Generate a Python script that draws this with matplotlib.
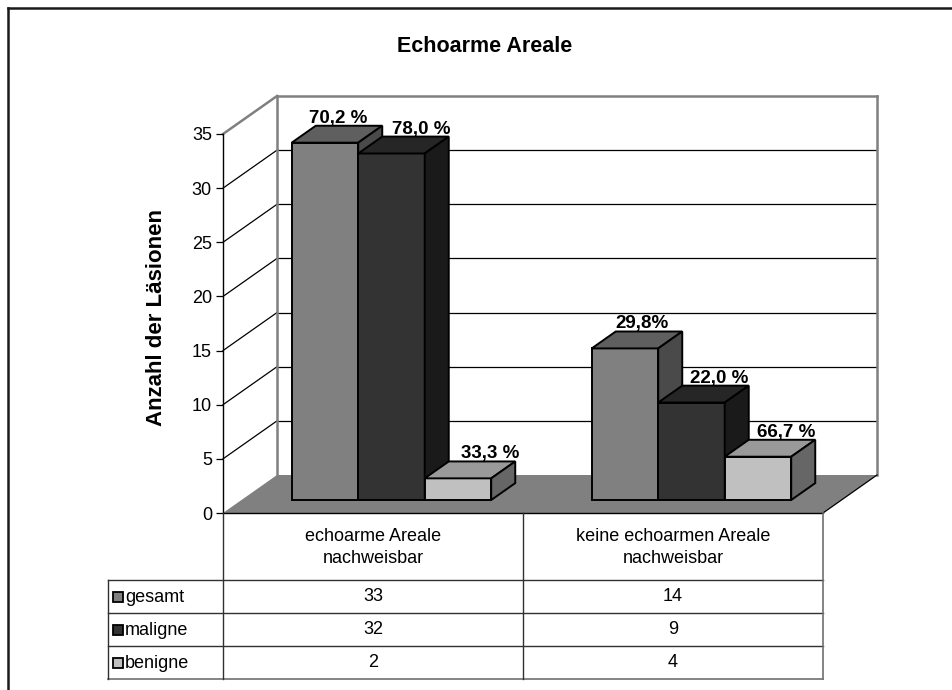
import matplotlib
matplotlib.use("Agg")
import matplotlib.pyplot as plt
from matplotlib.patches import Polygon, Rectangle
from matplotlib.lines import Line2D
import matplotlib.transforms as mtransforms

plt.rcParams['font.family'] = ['Liberation Sans', 'DejaVu Sans']

# ---------------- data ----------------
title = "Echoarme Areale"
categories = ["echoarme Areale\nnachweisbar", "keine echoarmen Areale\nnachweisbar"]
series_names = ["gesamt", "maligne", "benigne"]
gesamt = [33, 14]
maligne = [32, 9]
benigne = [2, 4]
pct_gesamt = ["70,2 %", "29,8%"]
pct_maligne = ["78,0 %", "22,0 %"]
pct_benigne = ["33,3 %", "66,7 %"]
y_label = "Anzahl der Läsionen"
y_ticks = [0, 5, 10, 15, 20, 25, 30, 35]

series_values = [gesamt, maligne, benigne]
series_pcts = [pct_gesamt, pct_maligne, pct_benigne]
# (front, top, side) colours
series_colors = [("#808080", "#5f5f5f", "#4a4a4a"),
                 ("#333333", "#262626", "#1a1a1a"),
                 ("#c0c0c0", "#9a9a9a", "#666666")]
# horizontal nudge of each percentage label (pixels), per series and category
label_nudge_px = [[1, 5], [18, 16], [20, 16]]

# ---------------- layout ----------------
W, H = 953, 690
fig = plt.figure(figsize=(W / 100, H / 100), dpi=100)
pix = mtransforms.Affine2D().scale(1, -1).translate(0, H)  # pixel coords, origin top-left

AX_L, AX_R, AX_T, AX_B = 223, 823, 134, 513
ax = fig.add_axes([AX_L / W, (H - AX_B) / H, (AX_R - AX_L) / W, (AX_B - AX_T) / H])
ax.set_xlim(0, len(categories))
ax.set_ylim(0, max(y_ticks))
ppu_x = (AX_R - AX_L) / len(categories)
ppu_y = (AX_B - AX_T) / max(y_ticks)

DX = 54 / ppu_x     # depth offset of back wall (data units)
DY = 38 / ppu_y
d0, d1 = 0.342, 0.787
bw = 66.5 / ppu_x

ymax = max(y_ticks)
wall_gray = "#808080"
n = len(categories)

# walls: grid lines
for v in y_ticks[1:]:
    c = wall_gray if v == ymax else "black"
    lw = 1.8 if v == ymax else 0.9
    ax.add_line(Line2D([0, DX], [v, v + DY], color=c, lw=lw, clip_on=False, zorder=1))
    ax.add_line(Line2D([DX, n + DX], [v + DY, v + DY], color=c, lw=lw,
                       clip_on=False, zorder=1))
for xx in [DX, n + DX]:
    ax.add_line(Line2D([xx, xx], [DY, ymax + DY], color=wall_gray, lw=1.8, clip_on=False, zorder=1))

# floor
ax.add_patch(Polygon([(0, 0), (n, 0), (n + DX, DY), (DX, DY)], closed=True,
                     facecolor="#808080", edgecolor="none", clip_on=False, zorder=2))
ax.add_line(Line2D([n, n + DX], [0, DY], color="black", lw=0.9, clip_on=False, zorder=2))
ax.add_line(Line2D([0, n], [0, 0], color="black", lw=1.0, clip_on=False, zorder=3))

# bars
ddx = (d1 - d0) * DX
ddy = (d1 - d0) * DY
base = d0 * DY
z = 4
for i in range(n):
    for j, (vals, pcts, cols) in enumerate(zip(series_values, series_pcts, series_colors)):
        x0 = i + 0.5 - 1.5 * bw + j * bw + d0 * DX
        h = vals[i]
        ax.bar(x0, h, width=bw, bottom=base, align="edge", color=cols[0],
               edgecolor="black", linewidth=1.4, clip_on=False, zorder=z)
        top = base + h
        ax.add_patch(Polygon([(x0, top), (x0 + bw, top), (x0 + bw + ddx, top + ddy),
                              (x0 + ddx, top + ddy)], closed=True, facecolor=cols[1],
                             edgecolor="black", linewidth=1.4, clip_on=False, zorder=z))
        ax.add_patch(Polygon([(x0 + bw, base), (x0 + bw + ddx, base + ddy),
                              (x0 + bw + ddx, top + ddy), (x0 + bw, top)], closed=True,
                             facecolor=cols[2], edgecolor="black", linewidth=1.4,
                             clip_on=False, zorder=z))
        ax.text(x0 + bw / 2 + ddx * 0.5 + label_nudge_px[j][i] / ppu_x,
                top + ddy + 3 / ppu_y, pcts[i], ha="center", va="baseline",
                fontsize=13.5, fontweight="bold", zorder=20, clip_on=False)
        z += 1

# axes styling
for s in ["top", "right", "bottom"]:
    ax.spines[s].set_visible(False)
ax.spines["left"].set_linewidth(1.0)
ax.set_xticks([])
ax.set_yticks(y_ticks)
ax.tick_params(axis="y", direction="out", length=5, width=0.9, labelsize=13, pad=3)
ax.patch.set_visible(False)

# title & y-label
fig.text(485 / W, 1 - 47 / H, title, ha="center", va="center", fontsize=15.5, fontweight="bold")
fig.text(157 / W, 1 - 318 / H, y_label, ha="center", va="center", rotation=90,
         fontsize=16, fontweight="bold")

# outer frame
fig.add_artist(Line2D([8, 8], [8, H + 5], transform=pix, color="#1a1a1a", lw=1.8))
fig.add_artist(Line2D([8, W + 5], [8, 8], transform=pix, color="#1a1a1a", lw=1.8))

# data table
TBL_L = 108
col_x = [AX_L + k * ppu_x for k in range(n + 1)]
row_y = [AX_B, 580, 613, 646, 679]
lc = "#303030"
for yy in row_y[1:-1]:
    fig.add_artist(Line2D([TBL_L, col_x[-1]], [yy, yy], transform=pix, color=lc, lw=1.0))
fig.add_artist(Line2D([TBL_L, col_x[-1]], [row_y[-1], row_y[-1]], transform=pix, color="#707070", lw=1.2))
fig.add_artist(Line2D([TBL_L, TBL_L], [row_y[1], row_y[-1]], transform=pix, color=lc, lw=1.0))
for k, xx in enumerate(col_x):
    c = "#707070" if k == n else lc
    fig.add_artist(Line2D([xx, xx], [AX_B, row_y[-1]], transform=pix, color=c, lw=1.0 if k < n else 1.2))

for i, cat in enumerate(categories):
    xc = (col_x[i] + col_x[i + 1]) / 2
    fig.text(xc, (row_y[0] + row_y[1]) / 2 + 1, cat, transform=pix, ha="center", va="center",
             fontsize=13, linespacing=1.45)
for r, (name, vals, cols) in enumerate(zip(series_names, series_values, series_colors)):
    yc = (row_y[r + 1] + row_y[r + 2]) / 2
    fig.add_artist(Rectangle((113, yc - 5), 10, 10, transform=pix, facecolor=cols[0],
                             edgecolor="black", lw=1.3))
    fig.text(125, yc + 1, name, transform=pix, ha="left", va="center", fontsize=13)
    for i in range(n):
        xc = (col_x[i] + col_x[i + 1]) / 2
        fig.text(xc, yc, str(vals[i]), transform=pix, ha="center", va="center", fontsize=13)

fig.savefig("out.png", dpi=100)
